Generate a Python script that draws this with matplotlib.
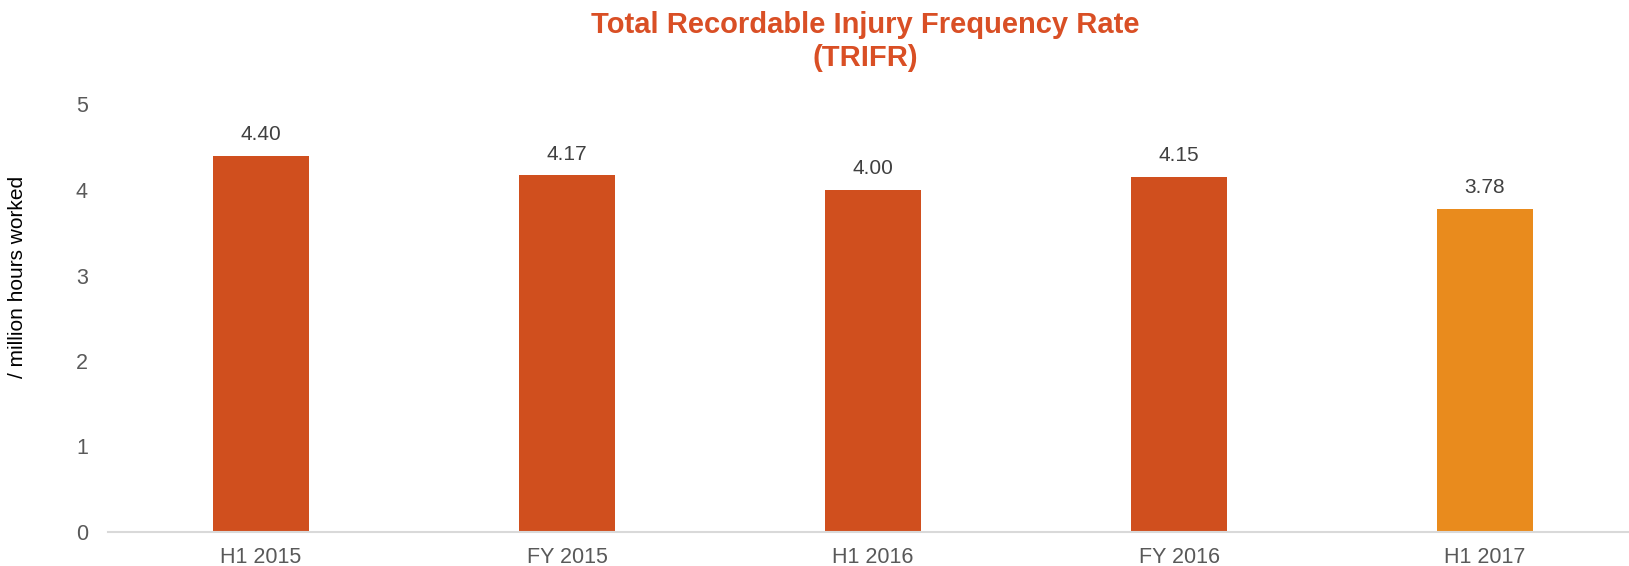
import matplotlib.pyplot as plt

plt.rcParams['font.family'] = ['Liberation Sans', 'DejaVu Sans']

# data
periods = ['H1 2015', 'FY 2015', 'H1 2016', 'FY 2016', 'H1 2017']
trifr = [4.40, 4.17, 4.00, 4.15, 3.78]
bar_colors = ['#D04F1E', '#D04F1E', '#D04F1E', '#D04F1E', '#E98B1D']

fig = plt.figure(figsize=(16.29, 5.66), dpi=100)
# plot area runs a bit past the right edge, as in the original
ax = fig.add_axes([108 / 1629, 1 - 532 / 566, (1638 - 108) / 1629, (532 - 104.5) / 566])

x = range(len(periods))
bars = ax.bar(x, trifr, width=0.314, color=bar_colors)

for b, v in zip(bars, trifr):
    ax.annotate('{:.2f}'.format(v), (b.get_x() + b.get_width() / 2, v),
                xytext=(0, 8.5), textcoords='offset points',
                ha='center', va='bottom', fontsize=15, color='#404040')

ax.set_xlim(-0.5, len(periods) - 0.5)
ax.set_ylim(0, 5)
ax.set_yticks([0, 1, 2, 3, 4, 5])
ax.set_xticks(list(x))
ax.set_xticklabels(periods)
ax.tick_params(axis='both', length=0, labelsize=15.5, labelcolor='#595959')
ax.tick_params(axis='y', pad=14.5)
ax.tick_params(axis='x', pad=10.5)

for s in ['top', 'right', 'left']:
    ax.spines[s].set_visible(False)
ax.spines['bottom'].set_color('#D9D9D9')
ax.spines['bottom'].set_linewidth(1.5)

ax.set_ylabel('/ million hours worked', fontsize=15, color='#000000')
ax.yaxis.set_label_coords((27 - 108) / 1530, 0.596)

fig.text(865 / 1629, 1 - 41.5 / 566, 'Total Recordable Injury Frequency Rate\n(TRIFR)',
         ha='center', va='center', fontsize=21, fontweight='bold', color='#D94F25',
         linespacing=1.25)

fig.savefig('out.png', dpi=100)
